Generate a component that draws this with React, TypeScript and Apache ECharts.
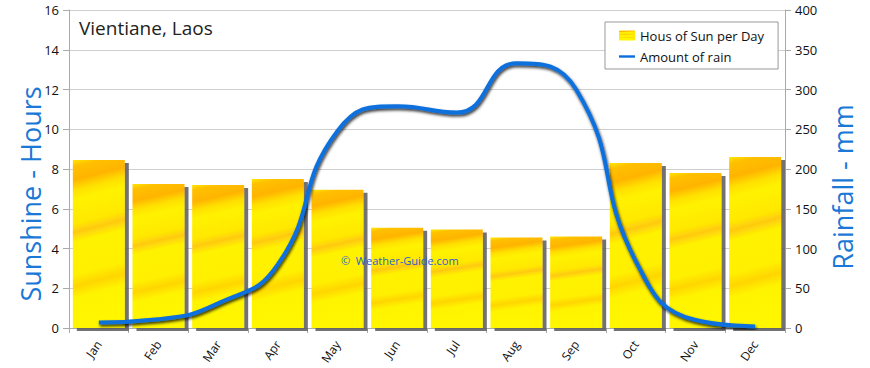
import React, { useEffect, useRef } from "react";
import * as echarts from "echarts";

const months = ["Jan", "Feb", "Mar", "Apr", "May", "Jun", "Jul", "Aug", "Sep", "Oct", "Nov", "Dec"];
const sunHours = [8.45, 7.25, 7.2, 7.5, 6.95, 5.05, 4.95, 4.55, 4.6, 8.3, 7.8, 8.6];
const rainMm = [7, 11, 31, 80, 248, 279, 271, 333, 300, 84, 10, 2];
const sunTicks = { min: 0, max: 16, interval: 2 };
const rainTicks = { min: 0, max: 400, interval: 50 };

const FONT = "'Open Sans', 'DejaVu Sans', sans-serif";

export default function App() {
  const ref = useRef<HTMLDivElement>(null);
  useEffect(() => {
    if (!ref.current) return;
    const chart = echarts.init(ref.current, undefined, { renderer: "svg" });
    const barColor = new echarts.graphic.LinearGradient(0, 0, 0.08, 1, [
      { offset: 0, color: "#FFE600" },
      { offset: 0.04, color: "#FFC000" },
      { offset: 0.12, color: "#FFB400" },
      { offset: 0.18, color: "#FFE000" },
      { offset: 0.24, color: "#FFF200" },
      { offset: 0.38, color: "#FFE800" },
      { offset: 0.43, color: "#FFCA10" },
      { offset: 0.49, color: "#FFF200" },
      { offset: 0.68, color: "#FFF000" },
      { offset: 0.75, color: "#FFD600" },
      { offset: 0.82, color: "#FFF400" },
      { offset: 1, color: "#FFF600" },
    ]);
    chart.setOption({
      animation: false,
      textStyle: { fontFamily: FONT },
      grid: { left: 69, right: 85, top: 10, bottom: 40 },
      legend: {
        orient: "vertical",
        left: 605,
        top: 22,
        width: 176,
        padding: [7, 14, 6, 14],
        itemGap: 8,
        itemWidth: 16,
        itemHeight: 10,
        backgroundColor: "#fff",
        borderColor: "#999",
        borderWidth: 1,
        borderRadius: 0,
        textStyle: { fontFamily: FONT, fontSize: 13, color: "#111" },
        data: [
          { name: "Hous of Sun per Day", icon: "rect" },
          { name: "Amount of rain", icon: "path://M0,4 L20,4 L20,7 L0,7 Z" },
        ],
      },
      xAxis: {
        type: "category",
        data: months,
        boundaryGap: true,
        axisLine: { lineStyle: { color: "#aaa" } },
        axisTick: { show: true, length: 5, lineStyle: { color: "#aaa" } },
        axisLabel: { rotate: 55, fontSize: 12, color: "#111", margin: 14, fontFamily: FONT },
      },
      yAxis: [
        {
          type: "value",
          min: sunTicks.min,
          max: sunTicks.max,
          interval: sunTicks.interval,
          axisLine: { show: true, lineStyle: { color: "#aaa" } },
          axisTick: { show: true, length: 6, lineStyle: { color: "#aaa" } },
          axisLabel: { fontSize: 13, color: "#111", margin: 10, fontFamily: FONT },
          splitLine: { show: true, lineStyle: { color: "#cfcfcf" } },
        },
        {
          type: "value",
          min: rainTicks.min,
          max: rainTicks.max,
          interval: rainTicks.interval,
          position: "right",
          axisLine: { show: true, lineStyle: { color: "#aaa" } },
          axisTick: { show: true, length: 6, lineStyle: { color: "#aaa" } },
          axisLabel: { fontSize: 13, color: "#111", margin: 10, fontFamily: FONT },
          splitLine: { show: false },
        },
      ],
      graphic: [
        {
          type: "text",
          left: 79,
          top: 18,
          style: { text: "Vientiane, Laos", fontSize: 19, fill: "#222", fontFamily: FONT },
          z: 10,
        },
        {
          type: "text",
          x: 30,
          y: 194,
          rotation: Math.PI / 2,
          style: {
            text: "Sunshine - Hours",
            fontSize: 27,
            fill: "#1a78d6",
            align: "center",
            verticalAlign: "middle",
            fontFamily: FONT,
          },
        },
        {
          type: "text",
          x: 842,
          y: 187,
          rotation: Math.PI / 2,
          style: {
            text: "Rainfall - mm",
            fontSize: 27,
            fill: "#1a78d6",
            align: "center",
            verticalAlign: "middle",
            fontFamily: FONT,
          },
        },
        {
          type: "text",
          x: 341,
          y: 260,
          z: 10,
          style: {
            text: "©  Weather-Guide.com",
            fontSize: 11,
            fill: "#2a5fd0",
            verticalAlign: "middle",
            fontFamily: FONT,
          },
        },
      ],
      series: [
        {
          name: "Hous of Sun per Day",
          type: "bar",
          yAxisIndex: 0,
          data: sunHours,
          barWidth: 52,
          itemStyle: {
            color: barColor,
            shadowColor: "rgba(90,90,90,0.85)",
            shadowOffsetX: 4,
            shadowOffsetY: 3,
            shadowBlur: 1,
          },
        },
        {
          name: "Amount of rain",
          type: "line",
          yAxisIndex: 1,
          data: rainMm,
          smooth: 0.5,
          symbol: "none",
          z: 5,
          lineStyle: {
            color: "#0a6fdc",
            width: 4,
            shadowColor: "rgba(0,0,0,0.8)",
            shadowOffsetX: 1,
            shadowOffsetY: 2,
            shadowBlur: 3,
          },
          itemStyle: { color: "#0a6fdc" },
        },
      ],
    });
    return () => chart.dispose();
  }, []);
  return <div ref={ref} style={{ width: 870, height: 368, position: "absolute", left: 0, top: 0 }} />;
}
